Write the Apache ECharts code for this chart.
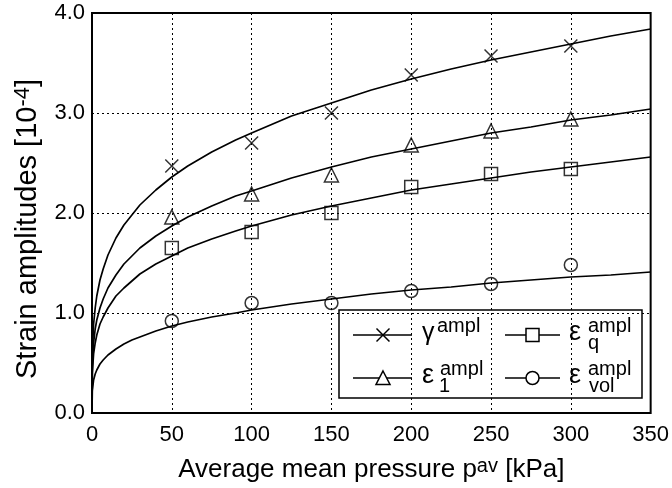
<!DOCTYPE html>
<html>
<head>
<meta charset="utf-8">
<script src="https://cdn.jsdelivr.net/npm/echarts@6/dist/echarts.min.js"></script>
<style>html,body{margin:0;padding:0;background:#fff;}#c{width:672px;height:488px;}</style>
</head>
<body>
<div id="c"></div>
<script>
// measured points
const pressure = [50, 100, 150, 200, 250, 300];
const gammaAmpl = [2.47, 2.70, 3.00, 3.38, 3.57, 3.67];
const eps1Ampl = [1.96, 2.19, 2.38, 2.68, 2.82, 2.94];
const epsQAmpl = [1.65, 1.81, 2.00, 2.26, 2.39, 2.44];
const epsVolAmpl = [0.92, 1.10, 1.10, 1.22, 1.29, 1.48];
// fitted curves
const fitPressure = [0, 0.2, 1, 2, 3, 5, 7, 10, 15, 20, 25, 30, 40, 50, 60, 75, 90, 100, 125, 150, 175, 200, 225, 250, 275, 300, 325, 350];
const gammaFit = [0, 0.59, 0.89, 1.05, 1.17, 1.33, 1.44, 1.58, 1.75, 1.88, 1.98, 2.08, 2.23, 2.36, 2.47, 2.61, 2.73, 2.80, 2.97, 3.10, 3.23, 3.34, 3.44, 3.53, 3.61, 3.69, 3.77, 3.84];
const eps1Fit = [0, 0.47, 0.70, 0.84, 0.93, 1.05, 1.14, 1.25, 1.38, 1.49, 1.57, 1.65, 1.77, 1.87, 1.96, 2.07, 2.17, 2.22, 2.35, 2.46, 2.56, 2.64, 2.72, 2.80, 2.86, 2.93, 2.98, 3.04];
const epsQFit = [0, 0.40, 0.59, 0.70, 0.78, 0.89, 0.96, 1.05, 1.17, 1.25, 1.32, 1.39, 1.49, 1.57, 1.65, 1.74, 1.82, 1.87, 1.98, 2.07, 2.15, 2.23, 2.29, 2.35, 2.41, 2.46, 2.51, 2.56];
const epsVolFit = [0, 0.22, 0.33, 0.39, 0.43, 0.49, 0.53, 0.58, 0.64, 0.69, 0.73, 0.76, 0.82, 0.87, 0.91, 0.96, 1.00, 1.03, 1.09, 1.14, 1.19, 1.23, 1.26, 1.30, 1.33, 1.36, 1.38, 1.41];
// legend labels
const legendMain = ['γ', 'ε', 'ε', 'ε'];
const legendSup = ['ampl', 'ampl', 'ampl', 'ampl'];
const legendSub = ['', '1', 'q', 'vol'];

const FONT = 'Liberation Sans';
const CROSS = 'path://M0,0L10,10M10,0L0,10';
const LW = 1.5;
const markerStyle = {color: 'rgba(0,0,0,0)', borderColor: '#000', borderWidth: LW};
const pair = (xs, ys) => xs.map((x, i) => [x, ys[i]]);

const chart = echarts.init(document.getElementById('c'), null, {renderer: 'canvas'});

function fitLine(ys) {
  return {type: 'line', data: pair(fitPressure, ys), showSymbol: false, symbol: 'none',
    lineStyle: {color: '#000', width: 1.7, join: 'round'}, z: 3, silent: true};
}
function scatter(ys, symbol, size) {
  return {type: 'scatter', data: pair(pressure, ys), symbol: symbol, symbolSize: size,
    itemStyle: markerStyle, z: 4, silent: true};
}

// legend graphic
const LX = 339, LY = 310;
const rows = [25, 68];
const cols = [{l0: 14, l1: 73, s: 44, t: 83}, {l0: 166, l1: 221, s: 193.5, t: 230}];
const slots = [[0, 0], [1, 0], [0, 1], [1, 1]]; // gamma, eps1, epsq, epsvol -> [row, col]
const mainSize = [25, 27, 27, 27];
const supOff = [15, 18, 19, 19];
const subOff = [0, 17, 19, 20];
const legendChildren = [{type: 'rect', shape: {x: 0, y: 0, width: 303, height: 88},
  style: {fill: '#fff', stroke: '#000', lineWidth: 1.5}}];
const symbolShapes = [
  (cx, cy) => [
    {type: 'line', shape: {x1: cx - 6.5, y1: cy - 6.5, x2: cx + 6.5, y2: cy + 6.5}, style: {stroke: '#000', lineWidth: LW}},
    {type: 'line', shape: {x1: cx + 6.5, y1: cy - 6.5, x2: cx - 6.5, y2: cy + 6.5}, style: {stroke: '#000', lineWidth: LW}}
  ],
  (cx, cy) => [{type: 'polygon', shape: {points: [[cx, cy - 7], [cx + 7, cy + 6.5], [cx - 7, cy + 6.5]]}, style: {stroke: '#000', lineWidth: LW, fill: '#fff'}}],
  (cx, cy) => [{type: 'rect', shape: {x: cx - 6.5, y: cy - 6.5, width: 13, height: 13}, style: {stroke: '#000', lineWidth: LW, fill: '#fff'}}],
  (cx, cy) => [{type: 'circle', shape: {cx: cx, cy: cy, r: 6.5}, style: {stroke: '#000', lineWidth: LW, fill: '#fff'}}]
];
slots.forEach(([ri, ci], k) => {
  const y = rows[ri], c = cols[ci];
  legendChildren.push({type: 'line', shape: {x1: c.l0, y1: y, x2: c.l1, y2: y}, style: {stroke: '#000', lineWidth: LW}});
  symbolShapes[k](c.s, y).forEach(el => legendChildren.push(el));
  legendChildren.push({type: 'text', x: c.t, y: y - 2, style: {text: legendMain[k], font: mainSize[k] + 'px "' + FONT + '"', fill: '#000', align: 'left', verticalAlign: 'middle'}});
  legendChildren.push({type: 'text', x: c.t + supOff[k], y: y - 9, style: {text: legendSup[k], font: '20px "' + FONT + '"', fill: '#000', align: 'left', verticalAlign: 'middle'}});
  if (legendSub[k]) legendChildren.push({type: 'text', x: c.t + subOff[k], y: y + 8, style: {text: legendSub[k], font: '20px "' + FONT + '"', fill: '#000', align: 'left', verticalAlign: 'middle'}});
});

const option = {
  animation: false,
  backgroundColor: '#fff',
  grid: {left: 92, right: 20, top: 13, bottom: 75, show: true, borderColor: '#000', borderWidth: 2, backgroundColor: 'rgba(0,0,0,0)'},
  xAxis: {
    type: 'value', min: 0, max: 350, interval: 50,
    axisLine: {show: false}, axisTick: {show: false},
    splitLine: {show: true, lineStyle: {color: '#000', width: 1, type: [2, 3]}},
    axisLabel: {color: '#000', fontFamily: FONT, fontSize: 22, margin: 11},
    name: '{a|Average mean pressure p}{s|av}{a| [kPa]}',
    nameLocation: 'middle', nameGap: 43,
    nameTextStyle: {rich: {
      a: {fontFamily: FONT, fontSize: 26, color: '#000'},
      s: {fontFamily: FONT, fontSize: 20, color: '#000', padding: [0, 0, 8, 0]}
    }}
  },
  yAxis: {
    type: 'value', min: 0, max: 4, interval: 1,
    axisLine: {show: false}, axisTick: {show: false},
    splitLine: {show: true, lineStyle: {color: '#000', width: 1, type: [2, 3]}},
    axisLabel: {color: '#000', fontFamily: FONT, fontSize: 22, margin: 7, formatter: v => v.toFixed(1)},
    name: '{a|Strain amplitudes [10}{s|-4}{a|]}',
    nameLocation: 'middle', nameGap: 48, nameRotate: 90,
    nameTextStyle: {padding: [0, 32, 0, 0], rich: {
      a: {fontFamily: FONT, fontSize: 29, color: '#000'},
      s: {fontFamily: FONT, fontSize: 22, color: '#000', padding: [0, 0, 10, 0]}
    }}
  },
  series: [
    fitLine(gammaFit), fitLine(eps1Fit), fitLine(epsQFit), fitLine(epsVolFit),
    scatter(gammaAmpl, CROSS, 13), scatter(eps1Ampl, 'triangle', 14),
    scatter(epsQAmpl, 'rect', 13), scatter(epsVolAmpl, 'circle', 13)
  ],
  graphic: [{type: 'group', x: LX, y: LY, z: 100, children: legendChildren}]
};
chart.setOption(option);
</script>
</body>
</html>
